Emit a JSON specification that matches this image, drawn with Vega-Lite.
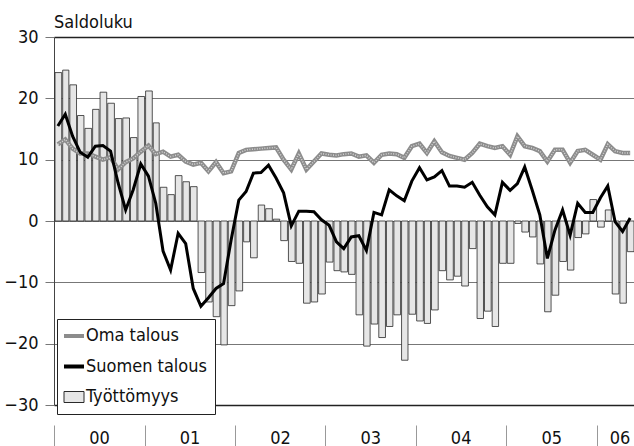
{
  "$schema": "https://vega.github.io/schema/vega-lite/v6.json",
  "width": 580,
  "height": 368,
  "autosize": {"type": "none"},
  "padding": {"left": 54, "top": 37, "right": 0, "bottom": 41},
  "background": "white",
  "config": {
    "view": {"stroke": null},
    "font": "Liberation Sans Narrow, Arial Narrow, DejaVu Sans Condensed, Roboto, sans-serif"
  },
  "title": {
    "text": "Saldoluku",
    "anchor": "start",
    "frame": "group",
    "fontSize": 18,
    "fontWeight": "normal",
    "color": "#111",
    "offset": -4,
    "font": "Liberation Sans Narrow, Arial Narrow, DejaVu Sans Condensed, Roboto, sans-serif"
  },
  "data": {
    "values": [
      {"d": "2000-01-01", "tyo": 24.2, "oma": 12.5, "suo": 15.5},
      {"d": "2000-02-01", "tyo": 24.6, "oma": 13.3, "suo": 17.4},
      {"d": "2000-03-01", "tyo": 22.2, "oma": 11.8, "suo": 13.8},
      {"d": "2000-04-01", "tyo": 17.2, "oma": 11.0, "suo": 11.2},
      {"d": "2000-05-01", "tyo": 15.1, "oma": 11.0, "suo": 10.4},
      {"d": "2000-06-01", "tyo": 18.2, "oma": 10.5, "suo": 12.2},
      {"d": "2000-07-01", "tyo": 21.0, "oma": 10.0, "suo": 12.3},
      {"d": "2000-08-01", "tyo": 19.2, "oma": 10.4, "suo": 11.4},
      {"d": "2000-09-01", "tyo": 16.7, "oma": 8.4, "suo": 6.2},
      {"d": "2000-10-01", "tyo": 16.8, "oma": 9.6, "suo": 1.8},
      {"d": "2000-11-01", "tyo": 13.6, "oma": 10.2, "suo": 5.1},
      {"d": "2000-12-01", "tyo": 20.3, "oma": 11.3, "suo": 9.3},
      {"d": "2001-01-01", "tyo": 21.2, "oma": 12.3, "suo": 7.3},
      {"d": "2001-02-01", "tyo": 16.0, "oma": 10.9, "suo": 2.9},
      {"d": "2001-03-01", "tyo": 5.5, "oma": 11.3, "suo": -4.9},
      {"d": "2001-04-01", "tyo": 4.3, "oma": 10.5, "suo": -8.0},
      {"d": "2001-05-01", "tyo": 7.4, "oma": 10.8, "suo": -2.0},
      {"d": "2001-06-01", "tyo": 6.4, "oma": 9.7, "suo": -3.7},
      {"d": "2001-07-01", "tyo": 5.6, "oma": 9.2, "suo": -11.0},
      {"d": "2001-08-01", "tyo": -8.4, "oma": 9.5, "suo": -13.9},
      {"d": "2001-09-01", "tyo": -13.2, "oma": 8.1, "suo": -12.5},
      {"d": "2001-10-01", "tyo": -15.6, "oma": 9.6, "suo": -11.0},
      {"d": "2001-11-01", "tyo": -20.2, "oma": 7.8, "suo": -10.2},
      {"d": "2001-12-01", "tyo": -13.8, "oma": 8.1, "suo": -3.1},
      {"d": "2002-01-01", "tyo": -11.4, "oma": 11.1, "suo": 3.4},
      {"d": "2002-02-01", "tyo": -3.4, "oma": 11.6, "suo": 4.8},
      {"d": "2002-03-01", "tyo": -6.0, "oma": 11.7, "suo": 7.8},
      {"d": "2002-04-01", "tyo": 2.6, "oma": 11.8, "suo": 7.9},
      {"d": "2002-05-01", "tyo": 2.0, "oma": 11.9, "suo": 9.1},
      {"d": "2002-06-01", "tyo": 0.3, "oma": 12.0, "suo": 7.0},
      {"d": "2002-07-01", "tyo": -3.2, "oma": 10.0, "suo": 4.6},
      {"d": "2002-08-01", "tyo": -6.6, "oma": 8.4, "suo": -0.8},
      {"d": "2002-09-01", "tyo": -6.9, "oma": 11.0, "suo": 1.6},
      {"d": "2002-10-01", "tyo": -13.4, "oma": 8.4, "suo": 1.6},
      {"d": "2002-11-01", "tyo": -13.2, "oma": 9.7, "suo": 1.5},
      {"d": "2002-12-01", "tyo": -11.9, "oma": 11.0, "suo": 0.2},
      {"d": "2003-01-01", "tyo": -6.7, "oma": 10.8, "suo": -0.7},
      {"d": "2003-02-01", "tyo": -8.1, "oma": 10.7, "suo": -3.4},
      {"d": "2003-03-01", "tyo": -8.3, "oma": 10.9, "suo": -4.5},
      {"d": "2003-04-01", "tyo": -8.7, "oma": 11.0, "suo": -2.6},
      {"d": "2003-05-01", "tyo": -15.3, "oma": 10.5, "suo": -2.4},
      {"d": "2003-06-01", "tyo": -20.4, "oma": 10.7, "suo": -4.8},
      {"d": "2003-07-01", "tyo": -16.8, "oma": 9.5, "suo": 1.4},
      {"d": "2003-08-01", "tyo": -19.0, "oma": 10.8, "suo": 1.0},
      {"d": "2003-09-01", "tyo": -17.2, "oma": 11.0, "suo": 5.1},
      {"d": "2003-10-01", "tyo": -15.3, "oma": 10.9, "suo": 4.1},
      {"d": "2003-11-01", "tyo": -22.7, "oma": 10.3, "suo": 3.3},
      {"d": "2003-12-01", "tyo": -15.2, "oma": 12.2, "suo": 6.5},
      {"d": "2004-01-01", "tyo": -16.3, "oma": 12.6, "suo": 8.7},
      {"d": "2004-02-01", "tyo": -16.7, "oma": 11.1, "suo": 6.7},
      {"d": "2004-03-01", "tyo": -14.5, "oma": 13.0, "suo": 7.2},
      {"d": "2004-04-01", "tyo": -8.1, "oma": 11.2, "suo": 8.2},
      {"d": "2004-05-01", "tyo": -9.6, "oma": 10.6, "suo": 5.7},
      {"d": "2004-06-01", "tyo": -9.0, "oma": 10.3, "suo": 5.7},
      {"d": "2004-07-01", "tyo": -10.6, "oma": 10.0, "suo": 5.5},
      {"d": "2004-08-01", "tyo": -4.5, "oma": 11.1, "suo": 6.3},
      {"d": "2004-09-01", "tyo": -15.9, "oma": 12.6, "suo": 4.2},
      {"d": "2004-10-01", "tyo": -14.7, "oma": 12.2, "suo": 2.3},
      {"d": "2004-11-01", "tyo": -17.2, "oma": 11.9, "suo": 1.0},
      {"d": "2004-12-01", "tyo": -6.9, "oma": 12.2, "suo": 6.3},
      {"d": "2005-01-01", "tyo": -6.9, "oma": 10.8, "suo": 5.0},
      {"d": "2005-02-01", "tyo": -0.4, "oma": 13.8, "suo": 6.1},
      {"d": "2005-03-01", "tyo": -1.8, "oma": 12.2, "suo": 8.8},
      {"d": "2005-04-01", "tyo": -2.6, "oma": 11.9, "suo": 5.0},
      {"d": "2005-05-01", "tyo": -7.0, "oma": 11.4, "suo": 1.0},
      {"d": "2005-06-01", "tyo": -14.8, "oma": 9.7, "suo": -6.1},
      {"d": "2005-07-01", "tyo": -12.1, "oma": 11.6, "suo": -1.5},
      {"d": "2005-08-01", "tyo": -6.6, "oma": 11.6, "suo": 1.8},
      {"d": "2005-09-01", "tyo": -8.0, "oma": 9.5, "suo": -2.3},
      {"d": "2005-10-01", "tyo": -2.7, "oma": 11.4, "suo": 2.9},
      {"d": "2005-11-01", "tyo": -2.1, "oma": 11.6, "suo": 1.4},
      {"d": "2005-12-01", "tyo": 3.5, "oma": 10.8, "suo": 1.4},
      {"d": "2006-01-01", "tyo": -1.0, "oma": 10.0, "suo": 3.8},
      {"d": "2006-02-01", "tyo": 1.8, "oma": 12.5, "suo": 5.7},
      {"d": "2006-03-01", "tyo": -11.9, "oma": 11.4, "suo": -0.1},
      {"d": "2006-04-01", "tyo": -13.4, "oma": 11.1, "suo": -1.7},
      {"d": "2006-05-01", "tyo": -5.0, "oma": 11.1, "suo": 0.5}
    ]
  },
  "layer": [
    {
      "mark": {"type": "bar", "fill": "#e6e6e6", "strokeWidth": 0.8},
      "encoding": {
        "x": {
          "field": "d",
          "timeUnit": "utcyearmonth",
          "type": "temporal",
          "scale": {
            "type": "utc",
            "domain": [
              {"year": 2000, "month": 1, "date": 1, "utc": true},
              {"year": 2006, "month": 6, "date": 1, "utc": true}
            ]
          },
          "axis": {
            "title": null,
            "values": [
              {"year": 2000, "month": 1, "date": 1, "utc": true},
              {"year": 2001, "month": 1, "date": 1, "utc": true},
              {"year": 2002, "month": 1, "date": 1, "utc": true},
              {"year": 2003, "month": 1, "date": 1, "utc": true},
              {"year": 2004, "month": 1, "date": 1, "utc": true},
              {"year": 2005, "month": 1, "date": 1, "utc": true},
              {"year": 2006, "month": 1, "date": 1, "utc": true}
            ],
            "labelExpr": "utcFormat(datum.value, '%y')",
            "offset": 20,
            "domain": false,
            "grid": false,
            "ticks": true,
            "tickSize": 22,
            "tickColor": "#999",
            "tickWidth": 1,
            "labelFontSize": 18,
            "labelColor": "#111",
            "labelAlign": "center",
            "labelBaseline": "top",
            "labelPadding": -18,
            "labelOffset": {"condition": {"test": "utcyear(datum.value) == 2006", "value": 23}, "value": 45},
            "labelFlush": false,
            "labelOverlap": false
          }
        },
        "y": {
          "field": "tyo",
          "type": "quantitative",
          "scale": {"domain": [-30, 30], "nice": false},
          "axis": {
            "title": null,
            "values": [-30, -20, -10, 0, 10, 20, 30],
            "grid": true,
            "gridColor": {"condition": {"test": "abs(datum.value) == 30", "value": "#222"}, "value": "#777"},
            "gridWidth": {"condition": {"test": "abs(datum.value) == 30", "value": 1.4}, "value": 1},
            "domain": true,
            "domainColor": "#444",
            "tickSize": 9,
            "tickColor": "#777",
            "labelFontSize": 18,
            "labelColor": "#111",
            "labelPadding": 7
          }
        },
        "stroke": {
          "datum": "Työttömyys",
          "type": "nominal",
          "scale": {
            "domain": ["Oma talous", "Suomen talous", "Työttömyys"],
            "range": ["#8c8c8c", "#000000", "#2a2a2a"]
          },
          "legend": {
            "title": null,
            "orient": "none",
            "legendX": 3,
            "legendY": 282,
            "fillColor": "white",
            "strokeColor": "#222",
            "padding": 8,
            "labelFontSize": 18,
            "labelColor": "#111",
            "labelOffset": 3,
            "rowPadding": 12.5,
            "symbolSize": 400,
            "symbolType": {"expr": "datum.value === 'Työttömyys' ? 'M-1,-0.55H1V0.55H-1Z' : 'stroke'"},
            "symbolStrokeWidth": {"expr": "datum.value === 'Työttömyys' ? 1 : 4"},
            "symbolFillColor": {"expr": "datum.value === 'Työttömyys' ? '#e6e6e6' : 'transparent'"},
            "symbolOpacity": 1
          }
        }
      }
    },
    {
      "mark": {"type": "line", "strokeWidth": 4.5, "strokeJoin": "miter"},
      "encoding": {
        "x": {"field": "d", "timeUnit": "utcyearmonth", "type": "temporal", "bandPosition": 0.5},
        "y": {"field": "oma", "type": "quantitative"},
        "stroke": {"datum": "Oma talous", "type": "nominal"}
      }
    },
    {
      "mark": {"type": "line", "strokeWidth": 1.5, "color": "#d4d4d4", "strokeDash": [1, 1.5]},
      "encoding": {
        "x": {"field": "d", "timeUnit": "utcyearmonth", "type": "temporal", "bandPosition": 0.5},
        "y": {"field": "oma", "type": "quantitative"}
      }
    },
    {
      "mark": {"type": "line", "strokeWidth": 3},
      "encoding": {
        "x": {"field": "d", "timeUnit": "utcyearmonth", "type": "temporal", "bandPosition": 0.5},
        "y": {"field": "suo", "type": "quantitative"},
        "stroke": {"datum": "Suomen talous", "type": "nominal"}
      }
    }
  ]
}
